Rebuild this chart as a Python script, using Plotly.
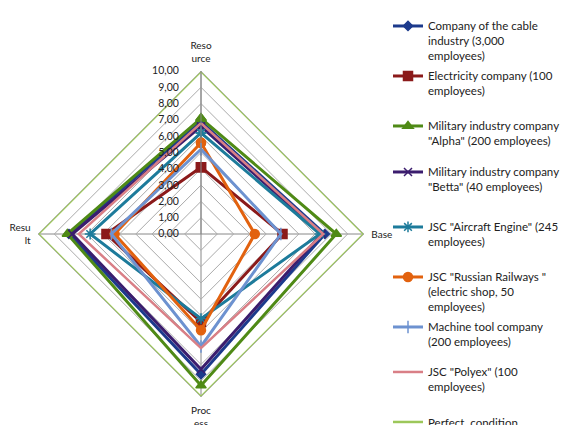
import plotly.graph_objects as go

categories = ["Reso<br>urce", "Base", "Proc<br>ess", "Resu<br>lt"]

series_names = [
    "Company of the cable<br>industry (3,000<br>employees)",
    "Electricity company (100<br>employees)",
    "Military industry company<br>\"Alpha\" (200 employees)",
    "Military industry company<br>\"Betta\" (40 employees)",
    "JSC \"Aircraft Engine\" (245<br>employees)",
    "JSC \"Russian Railways \"<br>(electric shop, 50<br>employees)",
    "Machine tool company<br>(200 employees)",
    "JSC \"Polyex\" (100<br>employees)",
    "Perfect  condition",
]

cable = [6.9, 7.6, 8.6, 8.1]
electricity = [4.1, 5.0, 5.4, 5.8]
alpha = [7.1, 8.3, 9.3, 8.2]
betta = [6.6, 7.4, 8.3, 7.9]
aircraft = [6.2, 7.3, 5.2, 6.8]
railways = [5.6, 3.3, 5.9, 5.3]
machine = [5.2, 4.9, 6.9, 5.5]
polyex = [6.8, 7.5, 7.0, 7.5]
perfect = [10, 10, 10, 10]

radial_ticks = [0, 1, 2, 3, 4, 5, 6, 7, 8, 9, 10]

all_values = [cable, electricity, alpha, betta, aircraft, railways, machine, polyex, perfect]

styles = [
    dict(color="#1c3a8c", width=3, symbol="diamond", msize=7),
    dict(color="#8b1a1a", width=3, symbol="square", msize=9),
    dict(color="#4f8a16", width=3, symbol="triangle-up", msize=9),
    dict(color="#3b1d6e", width=3, symbol="x-thin-open", msize=8),
    dict(color="#1d7b9b", width=3, symbol="asterisk-open", msize=9),
    dict(color="#e2620f", width=3, symbol="circle", msize=9),
    dict(color="#6d92d0", width=3, symbol="line-ns-open", msize=9),
    dict(color="#d97f86", width=2.5, symbol=None, msize=0),
    dict(color="#9cc75a", width=2.5, symbol=None, msize=0),
]

legend_tops = [21, 71, 121, 167, 222, 272, 322, 367, 417]

W, H = 568, 425
fig = go.Figure()

for i, (name, vals, st) in enumerate(zip(series_names, all_values, styles)):
    r = list(vals) + [vals[0]]
    th = categories + [categories[0]]
    mode = "lines+markers" if st["symbol"] else "lines"
    marker = dict(symbol=st["symbol"], size=st["msize"], color=st["color"],
                  line=dict(color=st["color"], width=1.5)) if st["symbol"] else None
    lg = "legend" if i == 0 else f"legend{i+1}"
    fig.add_trace(go.Scatterpolar(
        r=r, theta=th, name=name, mode=mode,
        line=dict(color=st["color"], width=st["width"]),
        marker=marker, legend=lg,
    ))

# put Perfect condition trace at bottom of drawing order
fig.data = (fig.data[-1],) + tuple(fig.data[:-1])

legend_layouts = {}
for i, top in enumerate(legend_tops):
    key = "legend" if i == 0 else f"legend{i+1}"
    legend_layouts[key] = dict(
        x=388 / W, y=1 - (top - 9) / H, xanchor="left", yanchor="top",
        bgcolor="rgba(0,0,0,0)", valign="top", itemwidth=30,
        font=dict(family="Lato", size=11.5, color="#222"),
        tracegroupgap=0,
    )

cx, cy, R = 201, 234, 163
fig.update_layout(
    width=W, height=H,
    margin=dict(l=0, r=0, t=0, b=0, autoexpand=False),
    paper_bgcolor="white",
    separators=", ",
    showlegend=True,
    polar=dict(
        domain=dict(x=[(cx - R) / W, (cx + R) / W], y=[1 - (cy + R) / H, 1 - (cy - R) / H]),
        bgcolor="white",
        gridshape="linear",
        radialaxis=dict(
            range=[0, 10], tickvals=radial_ticks, tickformat=".2f", angle=90,
            tickangle=90, side="counterclockwise",
            showline=True, linecolor="#888", linewidth=1,
            gridcolor="#aaa", gridwidth=0.7,
            ticks="outside", ticklen=18, tickcolor="rgba(0,0,0,0)",
            tickfont=dict(family="Lato", size=10.5, color="#222"),
        ),
        angularaxis=dict(
            direction="clockwise", rotation=90,
            showline=True, linecolor="#aaa", linewidth=0.7,
            gridcolor="#888", gridwidth=1,
            ticks="outside", ticklen=5, tickcolor="rgba(0,0,0,0)",
            tickfont=dict(family="Lato", size=10, color="#222"),
        ),
    ),
    **legend_layouts,
)

fig.write_html("out.html")
